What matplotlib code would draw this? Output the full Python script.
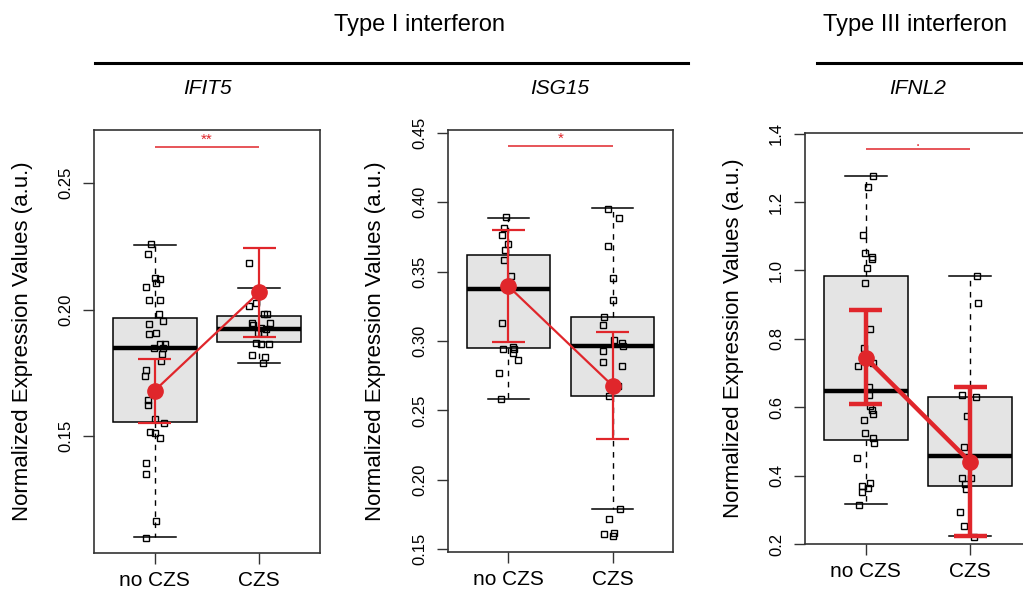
import matplotlib
matplotlib.use("Agg")
import matplotlib.pyplot as plt
from matplotlib.lines import Line2D

plt.rcParams['font.family'] = ['Liberation Sans', 'DejaVu Sans']

RED = '#E0262B'
BOXFILL = '#E4E4E4'

groups = ['no CZS', 'CZS']
genes = ['IFIT5', 'ISG15', 'IFNL2']
signif = ['**', '*', '.']

# box stats per gene: (whislo, q1, med, q3, whishi) for no CZS, CZS
ifit5_box = [(0.1102, 0.1557, 0.1847, 0.1966, 0.2256), (0.1790, 0.1873, 0.1922, 0.1976, 0.2087)]
isg15_box = [(0.2584, 0.2947, 0.3375, 0.3623, 0.3889), (0.1793, 0.2606, 0.2966, 0.3171, 0.3957)]
ifnl2_box = [(0.3165, 0.5028, 0.6463, 0.9839, 1.2758), (0.2224, 0.3699, 0.4571, 0.6298, 0.9839)]

# mean and error bar (low, high)
ifit5_mean = [0.168, 0.2069]
ifit5_err = [(0.1553, 0.1806), (0.1893, 0.2243)]
isg15_mean = [0.3394, 0.2678]
isg15_err = [(0.2995, 0.3798), (0.2293, 0.3067)]
ifnl2_mean = [0.7453, 0.4397]
ifnl2_err = [(0.6085, 0.883), (0.2244, 0.658)]

# individual samples
ifit5_nocz = [0.2260, 0.2220, 0.2124, 0.2120, 0.2107, 0.2091, 0.2038, 0.2038, 0.1983, 0.1955,
              0.1943, 0.1909, 0.1904, 0.1864, 0.1864, 0.1847, 0.1847, 0.1823, 0.1798, 0.1761,
              0.1738, 0.1643, 0.1623, 0.1566, 0.1553, 0.1517, 0.1511, 0.1491, 0.1392, 0.1350,
              0.1164, 0.1099]
ifit5_nocz_jit = [-0.035, -0.064, 0.006, 0.048, 0.016, -0.080, -0.051, 0.048, 0.038, 0.076,
                  -0.057, 0.010, -0.057, 0.054, 0.099, -0.003, 0.076, 0.067, 0.064, -0.083,
                  -0.089, -0.067, -0.067, 0.006, 0.086, -0.045, 0.006, 0.054, -0.083, -0.086,
                  0.016, -0.086]
ifit5_czs = [0.2183, 0.2016, 0.2028, 0.1982, 0.1982, 0.1946, 0.1946, 0.1939, 0.1926, 0.1922,
             0.1906, 0.1906, 0.1867, 0.1864, 0.1864, 0.1819, 0.1811, 0.1790]
ifit5_czs_jit = [-0.096, -0.096, -0.032, 0.048, 0.070, -0.073, 0.102, -0.064, 0.016, 0.064,
                 -0.016, 0.048, -0.032, 0.016, 0.096, -0.073, 0.054, 0.032]

isg15_nocz = [0.3892, 0.3815, 0.3764, 0.3702, 0.3659, 0.3586, 0.3466, 0.3130, 0.2942, 0.2957,
              0.2942, 0.2913, 0.2860, 0.2769, 0.2584]
isg15_nocz_jit = [-0.022, -0.038, -0.064, -0.006, -0.032, -0.038, 0.025, -0.061, -0.054, 0.041,
                  0.057, 0.041, 0.096, -0.092, -0.076]
isg15_czs = [0.3954, 0.3885, 0.3687, 0.3454, 0.3293, 0.3173, 0.3115, 0.2925, 0.3010, 0.2985,
             0.2961, 0.2848, 0.2817, 0.2673, 0.2601, 0.1793, 0.1719, 0.1608, 0.1598, 0.1615]
isg15_czs_jit = [-0.041, 0.064, -0.048, 0.0, 0.006, -0.083, -0.096, -0.089, 0.013, 0.086,
                 0.096, -0.096, 0.086, 0.054, -0.032, 0.070, -0.032, -0.080, 0.006, 0.016]

ifnl2_nocz = [1.2758, 1.2448, 1.1051, 1.0508, 1.0392, 1.0324, 1.0071, 0.9635, 0.8296, 0.7743,
              0.7307, 0.7210, 0.6580, 0.6366, 0.6046, 0.5930, 0.5803, 0.5639, 0.5251, 0.5105,
              0.4960, 0.4523, 0.3796, 0.3699, 0.3650, 0.3524, 0.3146]
ifnl2_nocz_jit = [0.073, 0.025, -0.029, -0.006, 0.064, 0.057, 0.010, -0.006, 0.041, -0.016,
                  0.073, -0.070, 0.032, 0.035, 0.041, 0.057, 0.073, -0.016, -0.006, 0.073,
                  0.083, -0.080, 0.041, -0.032, 0.025, -0.038, -0.061]
ifnl2_czs = [0.9839, 0.9034, 0.6366, 0.6298, 0.5736, 0.4833, 0.3941, 0.3941, 0.3747, 0.3601,
             0.2923, 0.2535, 0.2195]
ifnl2_czs_jit = [0.064, 0.076, -0.083, 0.054, -0.032, -0.057, -0.080, 0.006, -0.051, -0.041,
                 -0.096, -0.057, 0.032]

yticks = [[0.15, 0.20, 0.25], [0.15, 0.20, 0.25, 0.30, 0.35, 0.40, 0.45],
          [0.2, 0.4, 0.6, 0.8, 1.0, 1.2, 1.4]]
ytick_fmt = ['%.2f', '%.2f', '%.1f']
ylims = [(0.1038, 0.271), (0.148, 0.452), (0.203, 1.402)]
sig_y = [0.2642, 0.4404, 1.354]
ylabel_x = [-0.27, -0.276, -0.27]


def draw_panel(ax, box, mean, err, pts, jit, i, thick=False):
    stats = []
    for b in box:
        stats.append(dict(whislo=b[0], q1=b[1], med=b[2], q3=b[3], whishi=b[4], fliers=[]))
    ax.bxp(stats, positions=[1, 2], widths=0.8, capwidths=0.4, patch_artist=True,
           showfliers=False,
           boxprops=dict(facecolor=BOXFILL, edgecolor='black', linewidth=1.1),
           medianprops=dict(color='black', linewidth=3.2),
           whiskerprops=dict(color='black', linewidth=1.0, linestyle=(0, (4, 4))),
           capprops=dict(color='black', linewidth=1.1))

    # samples as open squares
    for k in range(2):
        xs = [k + 1 + j for j in jit[k]]
        ax.plot(xs, pts[k], 's', ms=4.5, mfc='none', mec='black', mew=1.0, zorder=4)

    lw = 3.2 if thick else 1.6
    ax.plot([1, 2], mean, '-', color=RED, lw=lw, zorder=5)
    for k in range(2):
        lo, hi = err[k]
        ax.vlines(k + 1, lo, hi, color=RED, lw=lw, zorder=5)
        ax.hlines([lo, hi], k + 1 - 0.16, k + 1 + 0.16, color=RED, lw=lw, zorder=5)
    ax.plot([1, 2], mean, 'o', color=RED, ms=11, zorder=6)

    # significance bar
    ax.hlines(sig_y[i], 1, 2, color=RED, lw=1.1, zorder=5)
    ax.text(1.5, sig_y[i], signif[i], color=RED, ha='center', va='bottom', fontsize=11)

    ax.set_xlim(0.42, 2.58)
    ax.set_ylim(*ylims[i])
    ax.set_xticks([1, 2])
    ax.set_xticklabels(groups, fontsize=15)
    ax.set_yticks(yticks[i])
    ax.set_yticklabels([ytick_fmt[i] % v for v in yticks[i]], fontsize=12,
                       rotation=90, va='center')
    ax.tick_params(axis='both', direction='out', length=8, width=1.0, color='#333333')
    ax.tick_params(axis='y', pad=7)
    ax.tick_params(axis='x', pad=5)
    for s in ax.spines.values():
        s.set_linewidth(1.2)
        s.set_color('#333333')
    ax.set_ylabel('Normalized Expression Values (a.u.)', fontsize=16)
    ax.yaxis.set_label_coords(ylabel_x[i], 0.5)


fig = plt.figure(figsize=(10.23, 5.92), dpi=100)
W, H = 1023.0, 592.0

ax1 = fig.add_axes([94 / W, 39 / H, 226 / W, 423 / H])
ax2 = fig.add_axes([448 / W, 40 / H, 225 / W, 422 / H])
ax3 = fig.add_axes([805 / W, 48 / H, 226 / W, 411 / H])

draw_panel(ax1, ifit5_box, ifit5_mean, ifit5_err, [ifit5_nocz, ifit5_czs],
           [ifit5_nocz_jit, ifit5_czs_jit], 0)
draw_panel(ax2, isg15_box, isg15_mean, isg15_err, [isg15_nocz, isg15_czs],
           [isg15_nocz_jit, isg15_czs_jit], 1)
draw_panel(ax3, ifnl2_box, ifnl2_mean, ifnl2_err, [ifnl2_nocz, ifnl2_czs],
           [ifnl2_nocz_jit, ifnl2_czs_jit], 2, thick=True)

# gene names, centred over each panel
for name, cx in zip(genes, [207, 560, 918]):
    fig.text(cx / W, 1 - 88 / H, name, ha='center', va='center', fontsize=15, style='italic')

# group headers
fig.text(420 / W, 1 - 25 / H, 'Type I interferon', ha='center', va='center', fontsize=17)
fig.text(915 / W, 1 - 25 / H, 'Type III interferon', ha='center', va='center', fontsize=17)
fig.add_artist(Line2D([95 / W, 688 / W], [1 - 63 / H, 1 - 63 / H], color='black', lw=2.2))
fig.add_artist(Line2D([817 / W, 1.0], [1 - 63 / H, 1 - 63 / H], color='black', lw=2.2))

fig.savefig('out.png', dpi=100)
